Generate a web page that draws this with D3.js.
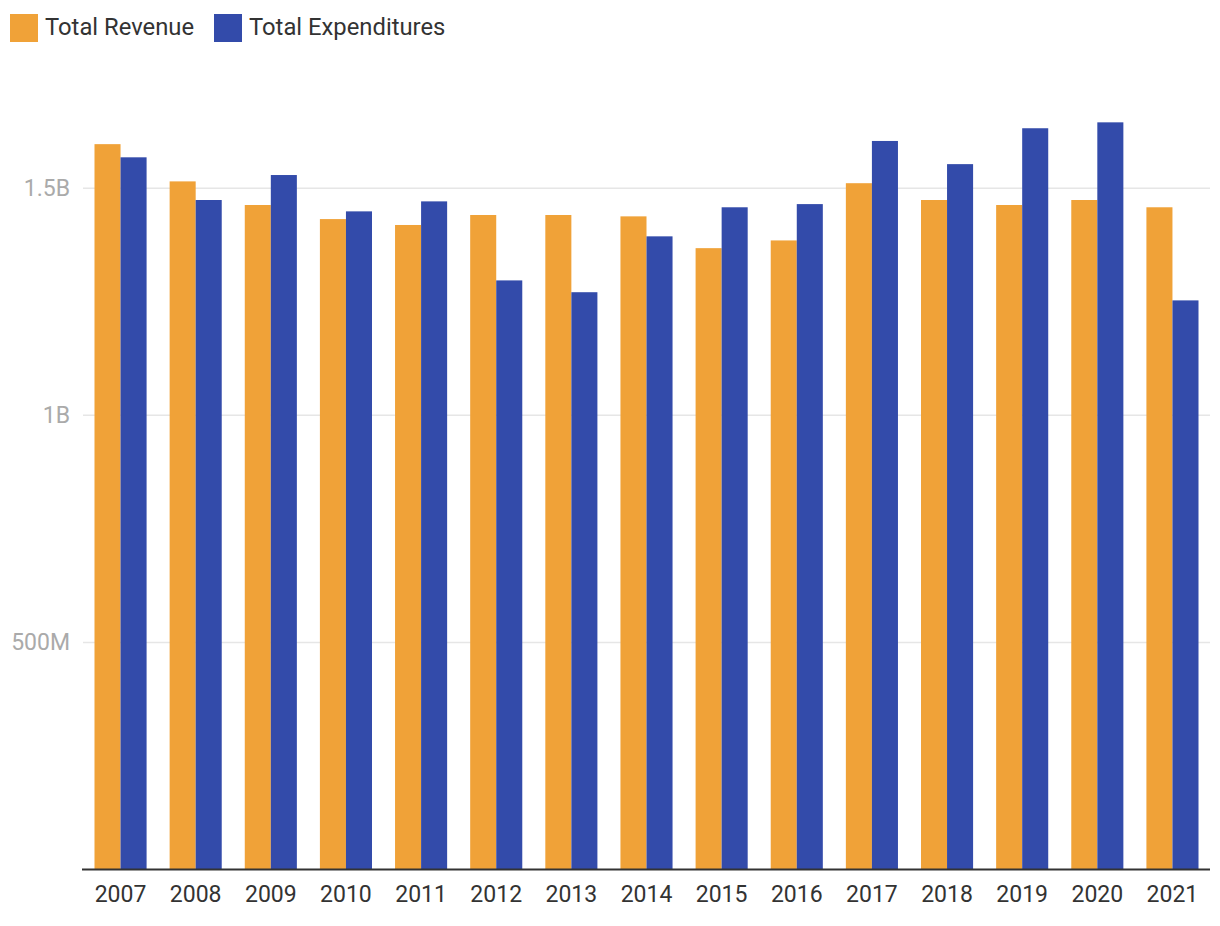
<!DOCTYPE html>
<html><head><meta charset="utf-8">
<script src="https://cdn.jsdelivr.net/npm/d3@7"></script>
<style>body{margin:0;background:#fff;font-family:Roboto,sans-serif;}</style>
</head><body>
<svg id="c" width="1220" height="926"></svg>
<script>
const years = ["2007","2008","2009","2010","2011","2012","2013","2014","2015","2016","2017","2018","2019","2020","2021"];
const revenue = [1.597,1.515,1.463,1.432,1.419,1.441,1.441,1.438,1.368,1.385,1.511,1.474,1.463,1.474,1.458].map(v=>v*1e9);
const expenditures = [1.568,1.474,1.529,1.449,1.471,1.297,1.271,1.394,1.458,1.465,1.604,1.553,1.632,1.645,1.253].map(v=>v*1e9);
const seriesNames = ["Total Revenue","Total Expenditures"];
const colors = ["#F0A238","#334BAA"];
const yTicks = [5e8,1e9,1.5e9];
const yTickLabels = ["500M","1B","1.5B"];

const svg = d3.select("#c");
const x0 = d3.scaleBand().domain(years).range([83,1210]).paddingInner(0.3067).paddingOuter(0.153);
const x1 = d3.scaleBand().domain([0,1]).range([0,x0.bandwidth()]);
const y = d3.scaleLinear().domain([0,1e9]).range([869.5,415.3]);

// gridlines
svg.append("g").selectAll("line").data(yTicks).join("line")
  .attr("x1",83).attr("x2",1210).attr("y1",d=>y(d)).attr("y2",d=>y(d))
  .attr("stroke","#e6e6e6").attr("stroke-width",1.5);
// y labels
svg.append("g").selectAll("text").data(yTicks).join("text")
  .attr("x",70).attr("y",d=>y(d)+8).attr("text-anchor","end")
  .attr("font-size",23).attr("fill","#aaaaaa").text((d,i)=>yTickLabels[i]);

// bars
const g = svg.append("g");
years.forEach((yr,i)=>{
  [revenue[i],expenditures[i]].forEach((v,k)=>{
    g.append("rect").attr("x",x0(yr)+x1(k)).attr("width",x1.bandwidth())
      .attr("y",y(v)).attr("height",y(0)-y(v)).attr("fill",colors[k]);
  });
});
// baseline
svg.append("line").attr("x1",82).attr("x2",1210).attr("y1",y(0)).attr("y2",y(0))
  .attr("stroke","#333").attr("stroke-width",2);
// x labels
svg.append("g").selectAll("text").data(years).join("text")
  .attr("x",d=>x0(d)+x0.bandwidth()/2).attr("y",902).attr("text-anchor","middle")
  .attr("font-size",23).attr("fill","#333").text(d=>d);

// legend
const legX = [10,214];
seriesNames.forEach((n,k)=>{
  svg.append("rect").attr("x",legX[k]).attr("y",14).attr("width",28).attr("height",28).attr("fill",colors[k]);
  svg.append("text").attr("x",legX[k]+35).attr("y",35).attr("font-size",23.8).attr("fill","#333").text(n);
});
</script>
</body></html>
